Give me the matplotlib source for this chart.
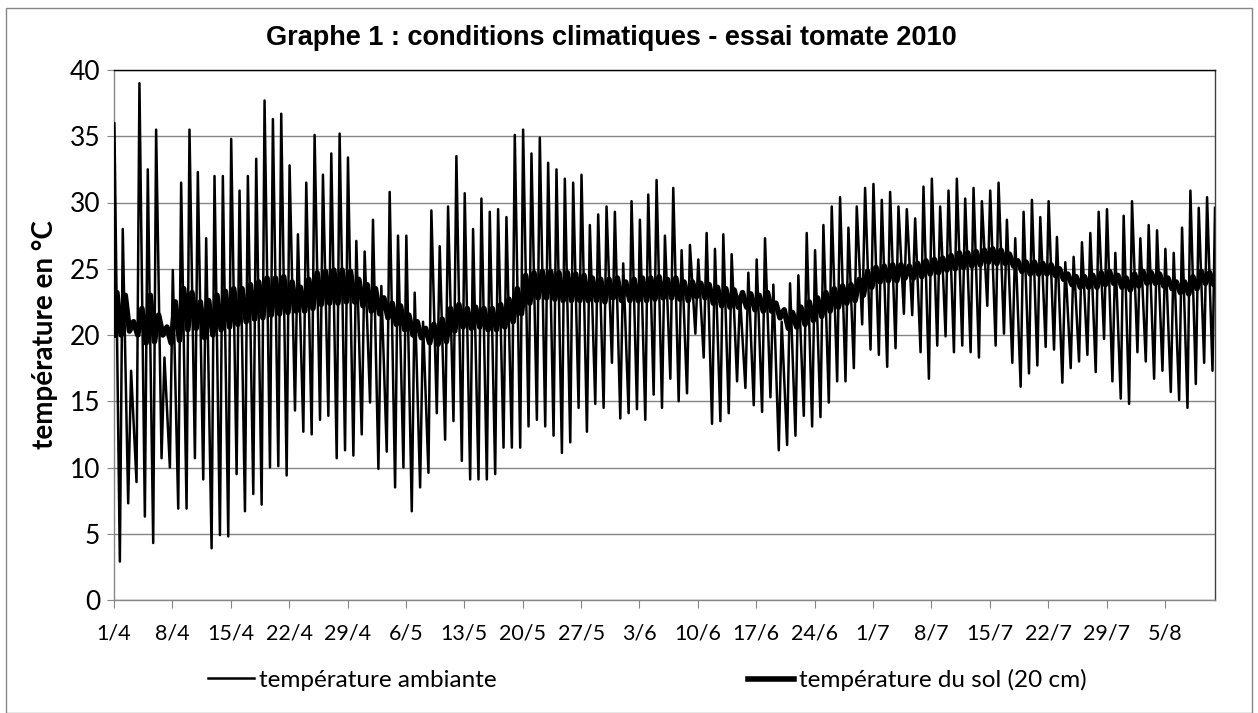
"""Graphe 1 : conditions climatiques - essai tomate 2010."""

import matplotlib
matplotlib.use("Agg")
import matplotlib.pyplot as plt
from matplotlib.lines import Line2D
from matplotlib.patches import Rectangle

plt.rcParams["font.family"] = ["Lato", "DejaVu Sans"]

# week tick labels (one every 7 days from 1/4)
week_labels = ["1/4", "8/4", "15/4", "22/4", "29/4", "6/5", "13/5", "20/5", "27/5",
               "3/6", "10/6", "17/6", "24/6", "1/7", "8/7", "15/7", "22/7", "29/7", "5/8"]

# daily maximum of the air temperature (°C), day 0 = 1/4
air_max = [36.0, 28.0, 17.3, 39.0, 32.5, 35.5, 18.3, 24.9, 31.5, 35.5,
           32.3, 27.3, 32.0, 32.0, 34.8, 30.9, 32.0, 33.3, 37.7, 36.3,
           36.7, 32.8, 27.6, 31.5, 35.1, 32.1, 33.7, 35.2, 33.4, 27.1,
           26.3, 28.7, 23.7, 30.8, 27.5, 27.5, 23.2, 21.0, 29.4, 26.7,
           29.7, 33.5, 30.7, 28.0, 30.3, 29.3, 29.5, 28.9, 35.1, 35.5,
           33.7, 34.9, 33.0, 32.5, 31.8, 31.5, 32.1, 28.3, 29.1, 29.7,
           29.3, 25.4, 30.1, 28.7, 30.6, 31.7, 27.5, 31.1, 26.4, 26.8,
           25.7, 27.7, 26.5, 27.6, 26.1, 23.0, 24.7, 25.7, 27.3, 23.8,
           21.0, 23.9, 24.5, 27.7, 26.4, 28.3, 29.7, 30.4, 28.1, 29.7,
           31.1, 31.4, 30.2, 30.8, 29.7, 29.5, 28.8, 31.2, 31.8, 29.7,
           30.9, 31.8, 30.3, 31.1, 30.1, 30.9, 31.5, 28.7, 27.3, 29.3,
           30.2, 28.9, 30.1, 27.4, 25.5, 25.9, 27.0, 27.7, 29.3, 29.5,
           26.2, 29.0, 30.1, 27.3, 28.3, 27.9, 26.5, 26.2, 28.1, 30.9,
           29.6, 30.4, 29.6]

# daily minimum of the air temperature (°C)
air_min = [2.9, 7.3, 8.9, 6.3, 4.3, 10.7, 10.0, 6.9, 6.9, 10.7,
           9.1, 3.9, 4.9, 4.8, 9.5, 6.7, 8.0, 7.2, 10.0, 10.1,
           9.4, 14.3, 12.7, 12.5, 13.6, 13.9, 10.7, 11.3, 10.9, 12.5,
           14.9, 9.9, 11.2, 8.5, 10.0, 6.7, 8.5, 9.6, 14.1, 12.1,
           13.5, 10.5, 9.1, 9.1, 9.1, 9.5, 11.5, 11.5, 11.5, 13.1,
           13.6, 13.1, 12.4, 11.1, 11.9, 14.5, 12.7, 14.8, 14.5, 17.9,
           13.7, 14.1, 14.4, 13.6, 15.5, 14.5, 16.7, 15.0, 15.6, 20.1,
           18.3, 13.3, 13.5, 14.1, 16.5, 16.0, 14.7, 14.2, 15.3, 11.3,
           11.7, 12.4, 13.9, 13.1, 13.8, 14.9, 16.5, 16.5, 17.5, 20.8,
           18.9, 18.5, 17.6, 19.0, 21.6, 21.5, 18.7, 16.7, 19.2, 19.9,
           18.7, 19.2, 18.7, 18.3, 22.2, 19.2, 20.1, 17.9, 16.1, 17.1,
           17.7, 19.1, 18.9, 16.4, 17.5, 18.0, 18.5, 17.2, 19.7, 16.5,
           15.2, 14.8, 18.7, 18.0, 16.7, 17.3, 15.7, 15.1, 14.5, 16.3,
           17.9, 17.3]

# daily high / low of the soil temperature at 20 cm (°C)
soil_max = [23.2, 23.0, 21.0, 22.0, 23.0, 21.5, 20.6, 22.5, 23.5, 23.2,
            22.5, 22.6, 23.0, 23.3, 23.5, 23.5, 23.8, 24.0, 24.3, 24.3,
            24.4, 24.0, 23.6, 24.2, 24.7, 24.8, 24.9, 24.9, 24.8, 24.2,
            23.8, 23.5, 22.8, 22.4, 22.2, 21.5, 21.0, 20.5, 20.8, 21.2,
            22.0, 22.3, 22.0, 22.1, 22.0, 22.0, 22.3, 22.7, 23.5, 24.5,
            24.7, 24.8, 24.8, 24.7, 24.7, 24.6, 24.5, 24.3, 24.2, 24.2,
            24.3, 24.0, 24.2, 24.3, 24.3, 24.4, 24.2, 24.3, 24.0, 24.0,
            23.9, 23.8, 23.6, 23.5, 23.4, 23.2, 23.1, 23.0, 23.2, 22.4,
            21.9, 21.7, 22.1, 22.5, 22.8, 23.2, 23.5, 23.7, 23.8, 24.2,
            24.8, 25.1, 25.2, 25.3, 25.3, 25.2, 25.4, 25.6, 25.7, 25.8,
            26.0, 26.2, 26.2, 26.3, 26.4, 26.5, 26.4, 26.1, 25.6, 25.5,
            25.5, 25.4, 25.3, 25.0, 24.6, 24.4, 24.4, 24.5, 24.7, 24.8,
            24.5, 24.3, 24.6, 24.8, 24.7, 24.6, 24.3, 24.0, 24.0, 24.4,
            24.8, 24.7]
soil_min = [20.0, 20.3, 20.0, 19.4, 19.5, 20.0, 19.4, 19.6, 20.4, 20.5,
            19.8, 20.0, 20.4, 20.6, 20.8, 21.0, 21.2, 21.3, 21.5, 21.6,
            21.7, 21.8, 21.8, 22.0, 22.3, 22.4, 22.4, 22.5, 22.5, 22.2,
            21.8, 21.6, 21.3, 20.8, 20.4, 20.0, 19.8, 19.4, 19.3, 19.5,
            20.3, 20.6, 20.5, 20.6, 20.4, 20.4, 20.6, 21.0, 21.6, 22.4,
            22.8, 22.8, 22.7, 22.6, 22.6, 22.6, 22.6, 22.6, 22.5, 22.8,
            22.6, 22.6, 22.6, 22.6, 22.7, 22.8, 22.8, 22.7, 22.6, 22.9,
            22.8, 22.4, 22.2, 22.1, 22.1, 22.1, 21.9, 21.8, 21.8, 21.3,
            20.5, 20.6, 20.8, 21.1, 21.4, 21.8, 22.1, 22.4, 22.6, 23.0,
            23.6, 24.0, 24.1, 24.1, 24.3, 24.3, 24.4, 24.6, 24.7, 24.9,
            25.0, 25.1, 25.2, 25.3, 25.5, 25.4, 25.4, 25.2, 24.8, 24.6,
            24.6, 24.6, 24.5, 24.2, 23.8, 23.6, 23.6, 23.6, 23.8, 23.9,
            23.6, 23.4, 23.7, 23.9, 23.9, 23.7, 23.5, 23.2, 23.1, 23.5,
            23.9, 23.8]
first_reading = 20.0
soil_last = 23.8

# time of day (fraction of a day on the axis) of the daily extremes
AIR_PEAK, AIR_LOW = 0.05, 0.70
SOIL_PEAK, SOIL_LOW = 0.35, 0.85
n_days = len(air_min)


def daily_trace(highs, lows, t_high, t_low, start, end):
    xs, ys = [0.0], [start]
    for day, (hi, lo) in enumerate(zip(highs, lows)):
        xs += [day + t_high, day + t_low]
        ys += [hi, lo]
    xs.append(float(n_days))
    ys.append(end)
    return xs, ys


air_x, air_y = daily_trace(air_max, air_min, AIR_PEAK, AIR_LOW, first_reading, air_max[-1])
soil_x, soil_y = daily_trace(soil_max, soil_min, SOIL_PEAK, SOIL_LOW, first_reading, soil_last)

W, H = 1258, 713
fig = plt.figure(figsize=(W / 100, H / 100), dpi=100)
ax = fig.add_axes([114 / W, 1 - 600 / H, (1215 - 114) / W, (600 - 70) / H])

grey = "#868686"
ax.plot(air_x, air_y, color="black", linewidth=1.8, solid_joinstyle="round", zorder=3)
ax.plot(soil_x, soil_y, color="black", linewidth=4.0, solid_joinstyle="round", zorder=4)

ax.set_xlim(0, n_days)
ax.set_ylim(0, 40)
ax.set_yticks(range(0, 41, 5))
ax.set_xticks([7 * k for k in range(len(week_labels))])
ax.set_xticklabels(week_labels)
ax.grid(axis="y", color=grey, linewidth=1.0)
ax.set_axisbelow(True)

for side in ("left", "bottom"):
    ax.spines[side].set_color(grey)
ax.spines["top"].set_color("black")
ax.spines["right"].set_color("#404040")
for sp in ax.spines.values():
    sp.set_linewidth(1.0)

ax.tick_params(axis="y", length=5, color=grey, labelsize=19, pad=5)
ax.tick_params(axis="x", length=6, color=grey, labelsize=15.5, pad=11)

fig.text(611 / W, 1 - 38 / H, "Graphe 1 : conditions climatiques - essai tomate 2010",
         ha="center", va="center", fontsize=19.5, fontweight="bold",
         family=["Liberation Sans", "DejaVu Sans"])
fig.text(45 / W, 1 - 335 / H, "température en °C", rotation=90, ha="center",
         va="center", fontsize=20, fontweight="bold")

# whole-chart frame
fig.patches.append(Rectangle((6 / W, 0), (1252 - 6) / W, 1 - 8 / H, transform=fig.transFigure,
                             fill=False, edgecolor=grey, linewidth=1.0))

h_air = Line2D([], [], color="black", linewidth=1.8)
h_soil = Line2D([], [], color="black", linewidth=4.0)
fig.legend([h_air], ["température ambiante"], loc="center left",
           bbox_to_anchor=(208 / W, 1 - 680 / H), frameon=False, fontsize=17.5,
           handlelength=1.9, handletextpad=0.2, borderpad=0, borderaxespad=0)
fig.legend([h_soil], ["température du sol (20 cm)"], loc="center left",
           bbox_to_anchor=(748 / W, 1 - 680 / H), frameon=False, fontsize=17.5,
           handlelength=1.9, handletextpad=0.2, borderpad=0, borderaxespad=0)

fig.savefig("out.png", dpi=100)
